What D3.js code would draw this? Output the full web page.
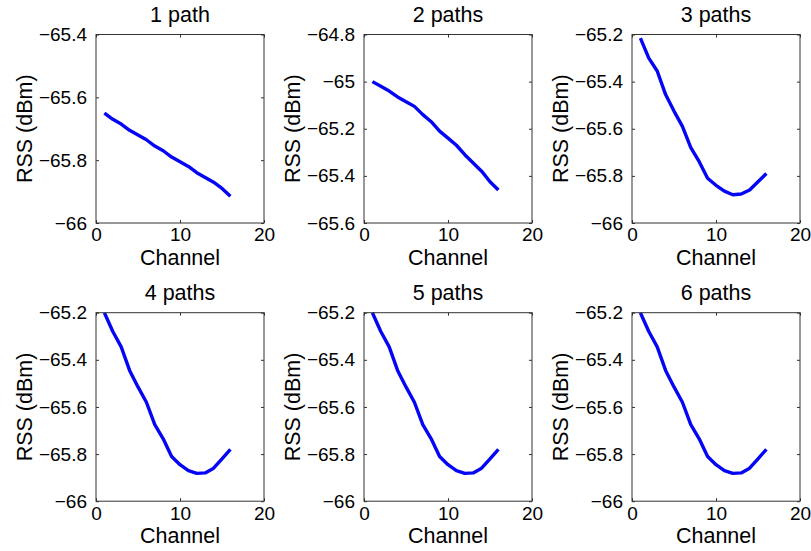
<!DOCTYPE html>
<html><head><meta charset="utf-8">
<script src="https://cdn.jsdelivr.net/npm/d3@7"></script>
<style>
body{margin:0;background:#fff}
svg{display:block}
text{font-family:"Liberation Sans",Arial,Helvetica,sans-serif;fill:#000}
</style>
</head><body>
<svg id="chart" width="811" height="551"></svg>
<script>
// ---- data ----
const channels = [1,2,3,4,5,6,7,8,9,10,11,12,13,14,15,16];
const titles = ["1 path","2 paths","3 paths","4 paths","5 paths","6 paths"];
const rss1 = [-65.65,-65.67,-65.685,-65.705,-65.72,-65.735,-65.755,-65.77,-65.79,-65.805,-65.82,-65.84,-65.855,-65.87,-65.89,-65.915];
const rss2 = [-65.0,-65.02,-65.04,-65.065,-65.085,-65.105,-65.14,-65.17,-65.21,-65.24,-65.27,-65.31,-65.345,-65.38,-65.425,-65.46];
const rss3 = [-65.215,-65.30,-65.355,-65.455,-65.525,-65.59,-65.68,-65.74,-65.81,-65.84,-65.865,-65.88,-65.877,-65.86,-65.825,-65.79];
const rss4 = [-65.2,-65.28,-65.345,-65.445,-65.515,-65.58,-65.675,-65.735,-65.81,-65.845,-65.87,-65.882,-65.88,-65.86,-65.82,-65.78];
const rss5 = [-65.2,-65.28,-65.345,-65.445,-65.515,-65.58,-65.675,-65.735,-65.81,-65.845,-65.87,-65.882,-65.88,-65.86,-65.82,-65.78];
const rss6 = [-65.2,-65.28,-65.345,-65.445,-65.515,-65.58,-65.675,-65.735,-65.81,-65.845,-65.87,-65.882,-65.88,-65.86,-65.82,-65.78];
const series = [rss1,rss2,rss3,rss4,rss5,rss6];
const xDomain = [0,20];
const xTicks = [0,10,20];
const yDomains = [[-66,-65.4],[-65.6,-64.8],[-66,-65.2],[-66,-65.2],[-66,-65.2],[-66,-65.2]];
const yTicks = [
  [-66,-65.8,-65.6,-65.4],
  [-65.6,-65.4,-65.2,-65,-64.8],
  [-66,-65.8,-65.6,-65.4,-65.2],
  [-66,-65.8,-65.6,-65.4,-65.2],
  [-66,-65.8,-65.6,-65.4,-65.2],
  [-66,-65.8,-65.6,-65.4,-65.2]
];
const xLabel = "Channel";
const yLabel = "RSS (dBm)";

// ---- layout ----
const colX = [96,364,632];
const rowY = [34.5,312.7];
const W = 168, H = 188.5;
const svg = d3.select("#chart");
const fmt = v => (Math.round(v*10)/10).toString().replace("-","\u2212");
const TICK_FS = 19, LABEL_FS = 21.5;

series.forEach((vals,i)=>{
  const ox = colX[i%3], oy = rowY[Math.floor(i/3)];
  const g = svg.append("g").attr("transform",`translate(${ox},${oy})`);
  const x = d3.scaleLinear().domain(xDomain).range([0,W]);
  const y = d3.scaleLinear().domain(yDomains[i]).range([H,0]);

  // line
  const line = d3.line().x((d,j)=>x(channels[j])).y(d=>y(d));
  g.append("path").datum(vals).attr("d",line)
    .attr("fill","none").attr("stroke","#0505f5").attr("stroke-width",3.4)
    .attr("stroke-linejoin","round");

  // frame
  g.append("rect").attr("x",0).attr("y",0).attr("width",W).attr("height",H)
    .attr("fill","none").attr("stroke","#333").attr("stroke-width",1);

  const styleAxis = sel => { sel.select(".domain").remove(); sel.selectAll("line").attr("stroke","#333"); };

  g.append("g").attr("transform",`translate(0,${H})`)
    .call(d3.axisBottom(x).tickValues(xTicks).tickSizeInner(-3).tickSizeOuter(0).tickPadding(5).tickFormat(fmt))
    .call(styleAxis)
    .selectAll("text").attr("font-size",TICK_FS).attr("font-family","Liberation Sans, Arial, sans-serif").attr("fill","#000");
  g.append("g")
    .call(d3.axisTop(x).tickValues(xTicks).tickSizeInner(-3).tickSizeOuter(0).tickFormat(""))
    .call(styleAxis);
  g.append("g")
    .call(d3.axisLeft(y).tickValues(yTicks[i]).tickSizeInner(-3).tickSizeOuter(0).tickPadding(9).tickFormat(fmt))
    .call(styleAxis)
    .selectAll("text").attr("font-size",TICK_FS).attr("font-family","Liberation Sans, Arial, sans-serif").attr("fill","#000");
  g.append("g").attr("transform",`translate(${W},0)`)
    .call(d3.axisRight(y).tickValues(yTicks[i]).tickSizeInner(-3).tickSizeOuter(0).tickFormat(""))
    .call(styleAxis);

  // title
  g.append("text").attr("x",W/2).attr("y",-13).attr("text-anchor","middle")
    .attr("font-size",LABEL_FS).text(titles[i]);
  // x label
  g.append("text").attr("x",W/2).attr("y",H+42).attr("text-anchor","middle")
    .attr("font-size",LABEL_FS).text(xLabel);
  // y label
  g.append("text").attr("transform",`translate(-64,${H/2}) rotate(-90)`)
    .attr("text-anchor","middle").attr("font-size",LABEL_FS).text(yLabel);
});
</script>
</body></html>
